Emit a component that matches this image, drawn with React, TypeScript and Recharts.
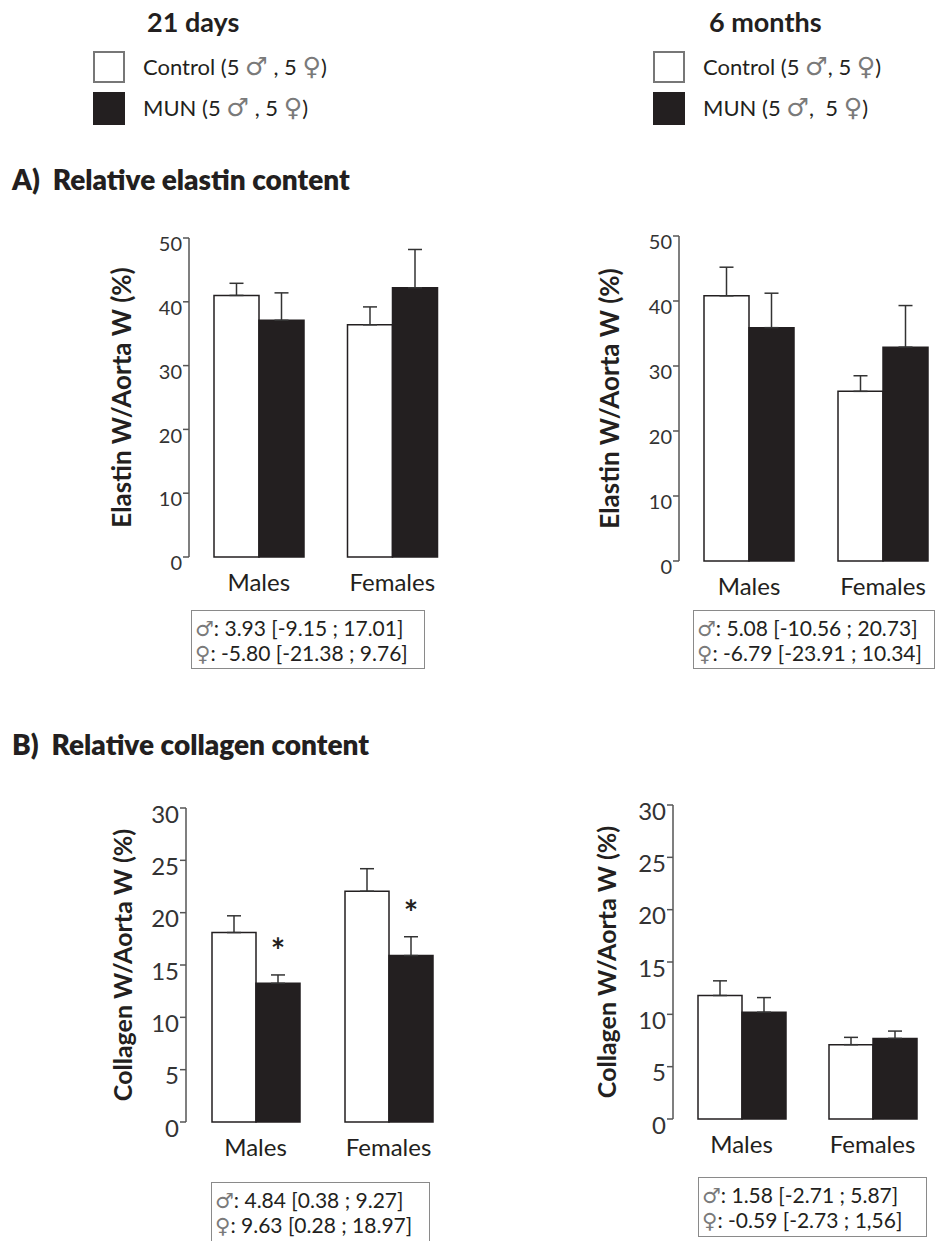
import React from "react";
import {
	BarChart,
	Bar,
	XAxis,
	YAxis,
	ErrorBar,
	LabelList,
} from "recharts";

const CATEGORIES = ["Males", "Females"];

// A) elastin, 21 days
const ELASTIN_21D_CONTROL = [41.0, 36.4];
const ELASTIN_21D_CONTROL_SEM = [1.9, 2.8];
const ELASTIN_21D_MUN = [37.1, 42.2];
const ELASTIN_21D_MUN_SEM = [4.3, 6.0];

// A) elastin, 6 months
const ELASTIN_6M_CONTROL = [40.8, 26.1];
const ELASTIN_6M_CONTROL_SEM = [4.4, 2.4];
const ELASTIN_6M_MUN = [35.9, 32.9];
const ELASTIN_6M_MUN_SEM = [5.3, 6.4];

// B) collagen, 21 days
const COLLAGEN_21D_CONTROL = [18.1, 22.05];
const COLLAGEN_21D_CONTROL_SEM = [1.6, 2.15];
const COLLAGEN_21D_MUN = [13.25, 15.9];
const COLLAGEN_21D_MUN_SEM = [0.8, 1.8];
const COLLAGEN_21D_SIG = ["*", "*"];

// B) collagen, 6 months
const COLLAGEN_6M_CONTROL = [11.8, 7.1];
const COLLAGEN_6M_CONTROL_SEM = [1.4, 0.7];
const COLLAGEN_6M_MUN = [10.2, 7.7];
const COLLAGEN_6M_MUN_SEM = [1.4, 0.7];

const ELASTIN_TICKS = [0, 10, 20, 30, 40, 50];
const COLLAGEN_TICKS = [0, 5, 10, 15, 20, 25, 30];

const STATS_ELASTIN_21D = ["3.93 [-9.15 ; 17.01]", "-5.80 [-21.38 ; 9.76]"];
const STATS_ELASTIN_6M = ["5.08 [-10.56 ; 20.73]", "-6.79 [-23.91 ; 10.34]"];
const STATS_COLLAGEN_21D = ["4.84 [0.38 ; 9.27]", "9.63 [0.28 ; 18.97]"];
const STATS_COLLAGEN_6M = ["1.58 [-2.71 ; 5.87]", "-0.59 [-2.73 ; 1,56]"];

const INK = "#231f20";
const AXIS = "#555";
const FONT = "Lato, 'Open Sans', sans-serif";
const SYMBOL_FONT = "'DejaVu Sans'";

function buildRows(
	control: number[],
	controlSem: number[],
	mun: number[],
	munSem: number[],
	sig?: string[]
) {
	return CATEGORIES.map((name, i) => ({
		name,
		control: control[i],
		mun: mun[i],
		controlErr: [0, controlSem[i]],
		munErr: [0, munSem[i]],
		sig: sig ? sig[i] : "",
	}));
}

type PanelProps = {
	data: any[];
	axisX: number;
	plotTop: number;
	plotH: number;
	plotW: number;
	yAxisW: number;
	yMax: number;
	ticks: number[];
	yLabel: string;
	tickFont: number;
	labelFont: number;
	barSize: number;
	stars?: boolean;
};

function Panel(p: PanelProps) {
	const mTop = 14;
	const xH = 50;
	const width = p.yAxisW + p.plotW + 10;
	const height = mTop + p.plotH + xH;

	const star = (props: any) => {
		const { x, y, width: w, height: h, index, value } = props;
		if (!value) return null;
		const row = p.data[index];
		const perUnit = h / row.mun;
		const errTop = y - row.munErr[1] * perUnit;
		return (
			<text
				x={x + w / 2}
				y={errTop - 12}
				textAnchor="middle"
				fontFamily={FONT}
				fontWeight={700}
				fontSize={34}
				fill={INK}>
				{value}
			</text>
		);
	};

	return (
		<div
			style={{
				position: "absolute",
				left: p.axisX - p.yAxisW,
				top: p.plotTop - mTop,
			}}>
			<BarChart
				width={width}
				height={height}
				data={p.data}
				margin={{ top: mTop, right: 10, left: 0, bottom: 0 }}
				barGap={0}
				barSize={p.barSize}>
				<XAxis
					dataKey="name"
					axisLine={false}
					tickLine={false}
					tickSize={0}
					tickMargin={17}
					height={xH}
					padding={{ left: 3, right: 0 }}
					tick={{ fill: INK, fontSize: 24, fontFamily: FONT }}
				/>
				<YAxis
					domain={[0, p.yMax]}
					ticks={p.ticks}
					width={p.yAxisW}
					axisLine={{ stroke: AXIS, strokeWidth: 1.5 }}
					tickLine={{ stroke: AXIS, strokeWidth: 1.5 }}
					tickSize={6}
					tickMargin={1}
					interval={0}
					tick={{
						fill: "#333",
						fontSize: p.tickFont,
						fontFamily: FONT,
						dy: 6,
					}}
					label={{
						value: p.yLabel,
						angle: -90,
						position: "center",
						fill: INK,
						fontSize: p.labelFont,
						fontWeight: 700,
						fontFamily: FONT,
						style: { whiteSpace: "pre" },
					}}
				/>
				<Bar
					dataKey="control"
					fill="#fff"
					stroke={INK}
					strokeWidth={1.5}
					isAnimationActive={false}>
					<ErrorBar
						dataKey="controlErr"
						direction="y"
						width={7}
						stroke="#333"
						strokeWidth={1.5}
					/>
				</Bar>
				<Bar
					dataKey="mun"
					fill={INK}
					stroke={INK}
					strokeWidth={1.5}
					isAnimationActive={false}>
					<ErrorBar
						dataKey="munErr"
						direction="y"
						width={7}
						stroke="#333"
						strokeWidth={1.5}
					/>
					{p.stars && <LabelList dataKey="sig" content={star} />}
				</Bar>
			</BarChart>
		</div>
	);
}

function Sym({ c, size = "1.15em" }: { c: string; size?: string }) {
	return (
		<span
			style={{
				fontFamily: SYMBOL_FONT,
				color: "#7a7a7a",
				fontSize: size,
			}}>
			{c}
		</span>
	);
}

function StatsBox({
	left,
	top,
	width,
	height,
	lines,
}: {
	left: number;
	top: number;
	width: number;
	height: number;
	lines: string[];
}) {
	const row: React.CSSProperties = { height: 25, lineHeight: "25px" };
	return (
		<div
			style={{
				position: "absolute",
				left,
				top,
				width,
				height,
				border: "1px solid #8a8a8a",
				boxSizing: "border-box",
				fontFamily: FONT,
				fontSize: 21,
				color: INK,
				paddingLeft: 3,
				paddingTop: 4,
				whiteSpace: "pre",
			}}>
			<div style={row}>
				<Sym c="♂" size="1em" />: {lines[0]}
			</div>
			<div style={row}>
				<Sym c="♀" size="1em" />: {lines[1]}
			</div>
		</div>
	);
}

function LegendBlock({
	left,
	title,
	titleLeft,
	control,
	mun,
}: {
	left: number;
	title: string;
	titleLeft: number;
	control: React.ReactNode;
	mun: React.ReactNode;
}) {
	const txt: React.CSSProperties = {
		position: "absolute",
		left: left + 50,
		fontFamily: FONT,
		fontSize: 22,
		color: INK,
		whiteSpace: "pre",
		lineHeight: "28px",
	};
	return (
		<>
			<div
				style={{
					position: "absolute",
					left: titleLeft,
					top: 5,
					fontFamily: FONT,
					fontWeight: 700,
					fontSize: 27,
					color: INK,
					whiteSpace: "pre",
				}}>
				{title}
			</div>
			<div
				style={{
					position: "absolute",
					left,
					top: 51,
					width: 32,
					height: 32,
					boxSizing: "border-box",
					border: "2px solid #777",
					background: "#fff",
				}}
			/>
			<div
				style={{
					position: "absolute",
					left,
					top: 92,
					width: 32,
					height: 33,
					background: INK,
				}}
			/>
			<div style={{ ...txt, top: 53 }}>{control}</div>
			<div style={{ ...txt, top: 94 }}>{mun}</div>
		</>
	);
}

const header: React.CSSProperties = {
	position: "absolute",
	left: 12,
	fontFamily: FONT,
	fontWeight: 800,
	fontSize: 28,
	color: INK,
	whiteSpace: "pre",
};

export default function App() {
	const el21 = buildRows(
		ELASTIN_21D_CONTROL,
		ELASTIN_21D_CONTROL_SEM,
		ELASTIN_21D_MUN,
		ELASTIN_21D_MUN_SEM
	);
	const el6 = buildRows(
		ELASTIN_6M_CONTROL,
		ELASTIN_6M_CONTROL_SEM,
		ELASTIN_6M_MUN,
		ELASTIN_6M_MUN_SEM
	);
	const co21 = buildRows(
		COLLAGEN_21D_CONTROL,
		COLLAGEN_21D_CONTROL_SEM,
		COLLAGEN_21D_MUN,
		COLLAGEN_21D_MUN_SEM,
		COLLAGEN_21D_SIG
	);
	const co6 = buildRows(
		COLLAGEN_6M_CONTROL,
		COLLAGEN_6M_CONTROL_SEM,
		COLLAGEN_6M_MUN,
		COLLAGEN_6M_MUN_SEM
	);

	return (
		<div
			style={{
				position: "absolute",
				left: 0,
				top: 0,
				width: 940,
				height: 1241,
				background: "#fff",
				overflow: "hidden",
			}}>
			<LegendBlock
				left={93}
				title="21 days"
				titleLeft={147}
				control={
					<>
						Control (5 <Sym c="♂" /> , 5 <Sym c="♀" />)
					</>
				}
				mun={
					<>
						MUN (5 <Sym c="♂" /> , 5 <Sym c="♀" />)
					</>
				}
			/>
			<LegendBlock
				left={653}
				title="6 months"
				titleLeft={709}
				control={
					<>
						Control (5 <Sym c="♂" />, 5 <Sym c="♀" />)
					</>
				}
				mun={
					<>
						MUN (5 <Sym c="♂" />,  5 <Sym c="♀" />)
					</>
				}
			/>

			<div style={{ ...header, top: 162 }}>A)  Relative elastin content</div>
			<div style={{ ...header, top: 727 }}>B)  Relative collagen content</div>

			<Panel
				data={el21}
				axisX={189}
				plotTop={238}
				plotH={319}
				plotW={270}
				yAxisW={135}
				yMax={50}
				ticks={ELASTIN_TICKS}
				yLabel="Elastin W/Aorta W  (%)"
				tickFont={20}
				labelFont={26}
				barSize={45}
			/>
			<Panel
				data={el6}
				axisX={679}
				plotTop={236}
				plotH={325}
				plotW={271}
				yAxisW={138}
				yMax={50}
				ticks={ELASTIN_TICKS}
				yLabel="Elastin W/Aorta W  (%)"
				tickFont={20}
				labelFont={26}
				barSize={45}
			/>
			<Panel
				data={co21}
				axisX={186}
				plotTop={808}
				plotH={314}
				plotW={269}
				yAxisW={126}
				yMax={30}
				ticks={COLLAGEN_TICKS}
				yLabel="Collagen W/Aorta W (%)"
				tickFont={24}
				labelFont={25}
				barSize={44}
				stars
			/>
			<Panel
				data={co6}
				axisX={673}
				plotTop={805}
				plotH={314}
				plotW={265}
				yAxisW={131}
				yMax={30}
				ticks={COLLAGEN_TICKS}
				yLabel="Collagen W/Aorta W (%)"
				tickFont={24}
				labelFont={25}
				barSize={44}
			/>

			<StatsBox left={191} top={610} width={234} height={59} lines={STATS_ELASTIN_21D} />
			<StatsBox left={693} top={610} width={242} height={59} lines={STATS_ELASTIN_6M} />
			<StatsBox left={211} top={1182} width={219} height={70} lines={STATS_COLLAGEN_21D} />
			<StatsBox left={698} top={1177} width={229} height={60} lines={STATS_COLLAGEN_6M} />
		</div>
	);
}
